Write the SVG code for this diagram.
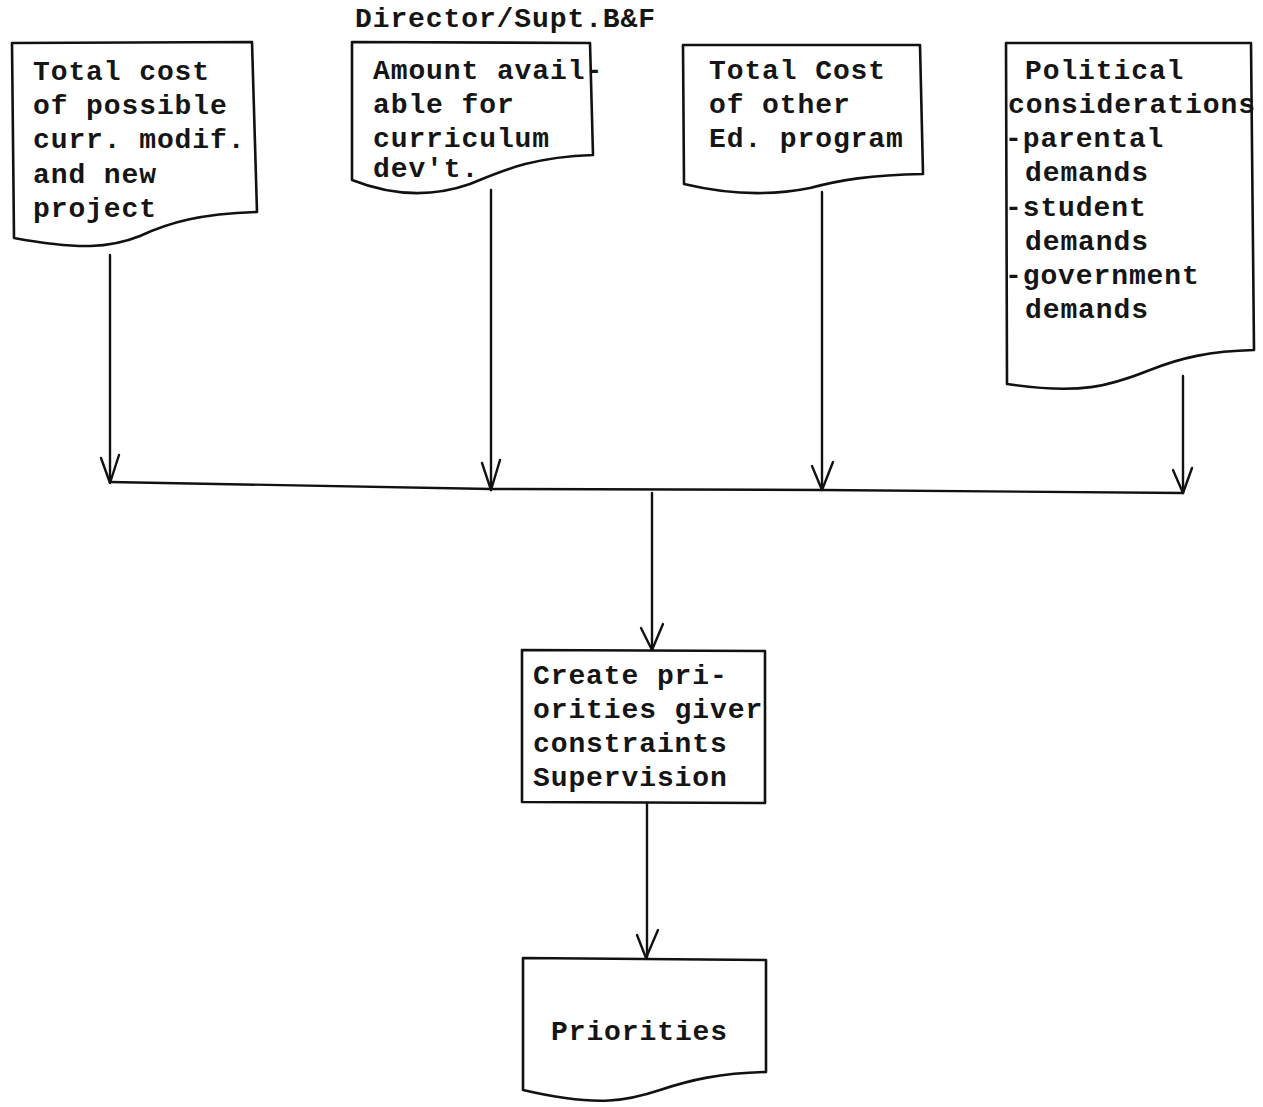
<svg xmlns="http://www.w3.org/2000/svg" width="1263" height="1107" viewBox="0 0 1263 1107">
  <defs>
    <style>
      .shape { fill: #fff; stroke: #111; stroke-width: 2.6; stroke-linejoin: round; }
      .wire { fill: none; stroke: #111; stroke-width: 2.4; stroke-linecap: round; stroke-linejoin: round; }
      .tt { font-family: "Liberation Mono", "Courier New", monospace; font-size: 28px; font-weight: bold; letter-spacing: 0.9px; fill: #151515; }
    </style>
  </defs>
  <rect width="1263" height="1107" fill="#fff"/>

  <text class="tt" x="355" y="27">Director/Supt.B&amp;F</text>

  <g id="total-cost-curr">
    <path class="shape" d="M12,43 L252,42 L257,212 C200,214 170,222 140,236 C110,248 80,250 14,238 Z"/>
    <text class="tt" x="33" y="80">Total cost</text>
    <text class="tt" x="33" y="114">of possible</text>
    <text class="tt" x="33" y="148">curr. modif.</text>
    <text class="tt" x="33" y="183">and new</text>
    <text class="tt" x="33" y="217">project</text>
  </g>

  <g id="amount-available">
    <path class="shape" d="M352,42 L590,43 L593,155 C530,157 500,172 470,184 C430,198 390,195 352,180 Z"/>
    <text class="tt" x="373" y="79">Amount avail-</text>
    <text class="tt" x="373" y="113">able for</text>
    <text class="tt" x="373" y="147">curriculum</text>
    <text class="tt" x="373" y="177">dev't.</text>
  </g>

  <g id="total-cost-other">
    <path class="shape" d="M683,45 L920,45 L923,174 C870,175 840,180 810,188 C770,196 730,195 684,184 Z"/>
    <text class="tt" x="709" y="79">Total Cost</text>
    <text class="tt" x="709" y="113">of other</text>
    <text class="tt" x="709" y="147">Ed. program</text>
  </g>

  <g id="political">
    <path class="shape" d="M1006,43 L1251,43 L1254,350 C1210,351 1180,358 1150,370 C1110,386 1080,395 1007,384 Z"/>
    <text class="tt" x="1025" y="79">Political</text>
    <text class="tt" x="1008" y="113">considerations</text>
    <text class="tt" x="1005" y="147">-parental</text>
    <text class="tt" x="1025" y="181">demands</text>
    <text class="tt" x="1005" y="216">-student</text>
    <text class="tt" x="1025" y="250">demands</text>
    <text class="tt" x="1005" y="284">-government</text>
    <text class="tt" x="1025" y="318">demands</text>
  </g>

  <g id="create-priorities">
    <path class="shape" d="M522,650 L765,651 L765,803 L522,802 Z"/>
    <text class="tt" x="533" y="684">Create pri-</text>
    <text class="tt" x="533" y="718">orities giver</text>
    <text class="tt" x="533" y="752">constraints</text>
    <text class="tt" x="533" y="786">Supervision</text>
  </g>

  <g id="priorities">
    <path class="shape" d="M523,958 L766,960 L766,1072 C720,1073 690,1080 660,1090 C630,1100 600,1108 523,1090 Z"/>
    <text class="tt" x="551" y="1040">Priorities</text>
  </g>

  <g id="connectors">
    <!-- feeds into the collecting line -->
    <path class="wire" d="M110,255 L110,482"/>
    <path class="wire" d="M101,458 L110,483 L119,455"/>
    <path class="wire" d="M491,190 L491,490"/>
    <path class="wire" d="M482,463 L491,490 L500,460"/>
    <path class="wire" d="M822,192 L822,490"/>
    <path class="wire" d="M812,466 L822,490 L833,462"/>
    <path class="wire" d="M1183,376 L1183,493"/>
    <path class="wire" d="M1173,470 L1183,493 L1192,468"/>
    <!-- collecting line -->
    <path class="wire" d="M110,482 L491,489 L822,490 L1183,493"/>
    <!-- down to the priorities step -->
    <path class="wire" d="M652,493 L652,650"/>
    <path class="wire" d="M641,628 L652,650 L663,624"/>
    <path class="wire" d="M647,803 L647,958"/>
    <path class="wire" d="M637,935 L646,958 L658,930"/>
  </g>
</svg>
